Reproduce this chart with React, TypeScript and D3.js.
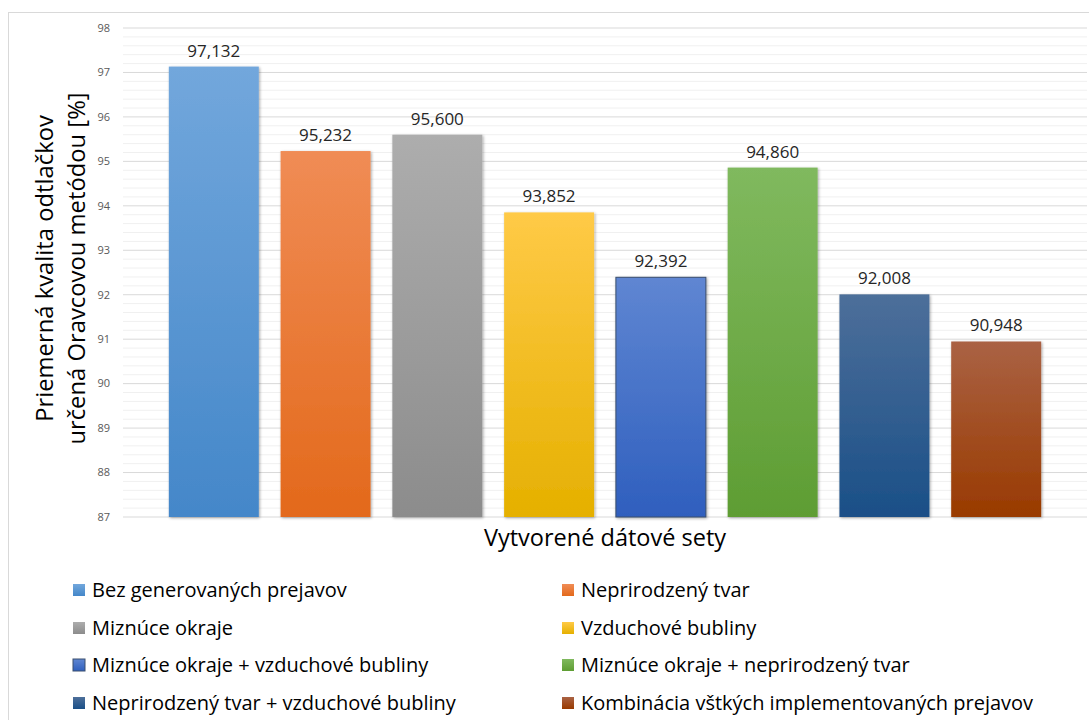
import React from "react";
import * as d3 from "d3";

const categories = [
  "Bez generovaných prejavov",
  "Neprirodzený tvar",
  "Miznúce okraje",
  "Vzduchové bubliny",
  "Miznúce okraje + vzduchové bubliny",
  "Miznúce okraje + neprirodzený tvar",
  "Neprirodzený tvar + vzduchové bubliny",
  "Kombinácia vštkých implementovaných prejavov",
];
const values = [97.132, 95.232, 95.6, 93.852, 92.392, 94.86, 92.008, 90.948];
const valueLabels = ["97,132", "95,232", "95,600", "93,852", "92,392", "94,860", "92,008", "90,948"];
const topColors = ["#72a7dc", "#f08c55", "#adadad", "#ffca47", "#5f86d2", "#80b95e", "#4d6f9a", "#aa6244"];
const bottomColors = ["#4487c9", "#e3691b", "#8c8c8c", "#e5b000", "#2f5fbe", "#5e9d33", "#1a4f87", "#993a00"];
const barStroke = [null, null, null, null, "#3b4f6e", null, null, null];
const yTicks = [87, 88, 89, 90, 91, 92, 93, 94, 95, 96, 97, 98];
const yTitleLines = ["Priemerná kvalita odtlačkov", "určená Oravcovou metódou [%]"];
const xTitle = "Vytvorené dátové sety";

const FONT = "'Open Sans', Lato, sans-serif";

export default function App() {
  const W = 1089, H = 720;
  const plot = { left: 123, right: 1087, top: 28, bottom: 517 };
  const y = d3.scaleLinear().domain([87, 98]).range([plot.bottom, plot.top]);
  const x = d3
    .scaleBand<string>()
    .domain(categories)
    .range([plot.left, plot.right])
    .paddingInner(0.195)
    .paddingOuter(0.41);
  const minor = d3.range(87, 98.001, 0.2).filter((v) => Math.abs(v - Math.round(v)) > 0.01);
  const legendRows = [590, 628, 665, 703];
  const legendCols = [73, 562];

  return (
    <svg
      width={W}
      height={H}
      style={{ position: "absolute", left: 0, top: 0, background: "#fff" }}
      fontFamily={FONT}
    >
      <defs>
        {categories.map((c, i) => (
          <linearGradient key={i} id={`g${i}`} x1="0" y1="0" x2="0" y2="1">
            <stop offset="0" stopColor={topColors[i]} />
            <stop offset="1" stopColor={bottomColors[i]} />
          </linearGradient>
        ))}
        <filter id="sh" x="-10%" y="-10%" width="130%" height="120%">
          <feGaussianBlur in="SourceAlpha" stdDeviation="1.5" />
          <feOffset dx="1" dy="1" result="b" />
          <feComponentTransfer>
            <feFuncA type="linear" slope="0.35" />
          </feComponentTransfer>
          <feMerge>
            <feMergeNode />
            <feMergeNode in="SourceGraphic" />
          </feMerge>
        </filter>
      </defs>
      <rect x={8.5} y={12.5} width={1200} height={800} fill="#fff" stroke="#d9d9d9" />
      {minor.map((v, i) => (
        <line key={"m" + i} x1={plot.left} x2={plot.right} y1={y(v)} y2={y(v)} stroke="#f0f0f0" strokeWidth={1} />
      ))}
      {yTicks.map((t) => (
        <g key={t}>
          <line x1={plot.left} x2={plot.right} y1={y(t)} y2={y(t)} stroke="#d9d9d9" strokeWidth={1} />
          <text x={110} y={y(t)} dy="0.35em" textAnchor="end" fontSize={11} fill="#595959">
            {t}
          </text>
        </g>
      ))}
      {categories.map((c, i) => (
        <g key={c}>
          <rect
            x={x(c)}
            y={y(values[i])}
            width={x.bandwidth()}
            height={plot.bottom - y(values[i])}
            fill={`url(#g${i})`}
            stroke={barStroke[i] || "none"}
            strokeWidth={barStroke[i] ? 1 : 0}
            filter="url(#sh)"
          />
          <text
            x={(x(c) as number) + x.bandwidth() / 2}
            y={y(values[i]) - 10}
            textAnchor="middle"
            fontSize={17}
            fill="#262626"
          >
            {valueLabels[i]}
          </text>
        </g>
      ))}
      <text
        x={(plot.left + plot.right) / 2}
        y={546}
        textAnchor="middle"
        fontSize={23.5}
        fill="#000"
      >
        {xTitle}
      </text>
      <g transform={`translate(61, ${(plot.top + plot.bottom) / 2 - 4}) rotate(-90)`}>
        {yTitleLines.map((l, i) => (
          <text key={i} x={0} y={i * 32 - 8} textAnchor="middle" fontSize={23.8} fill="#000">
            {l}
          </text>
        ))}
      </g>
      {categories.map((c, i) => {
        const col = i % 2;
        const row = Math.floor(i / 2);
        const lx = legendCols[col];
        const ly = legendRows[row];
        return (
          <g key={"l" + i}>
            <rect
              x={lx}
              y={ly - 6}
              width={12}
              height={12}
              fill={`url(#g${i})`}
              stroke={barStroke[i] || "none"}
            />
            <text x={lx + 19} y={ly} dy="0.35em" fontSize={20} fill="#000">
              {c}
            </text>
          </g>
        );
      })}
    </svg>
  );
}
